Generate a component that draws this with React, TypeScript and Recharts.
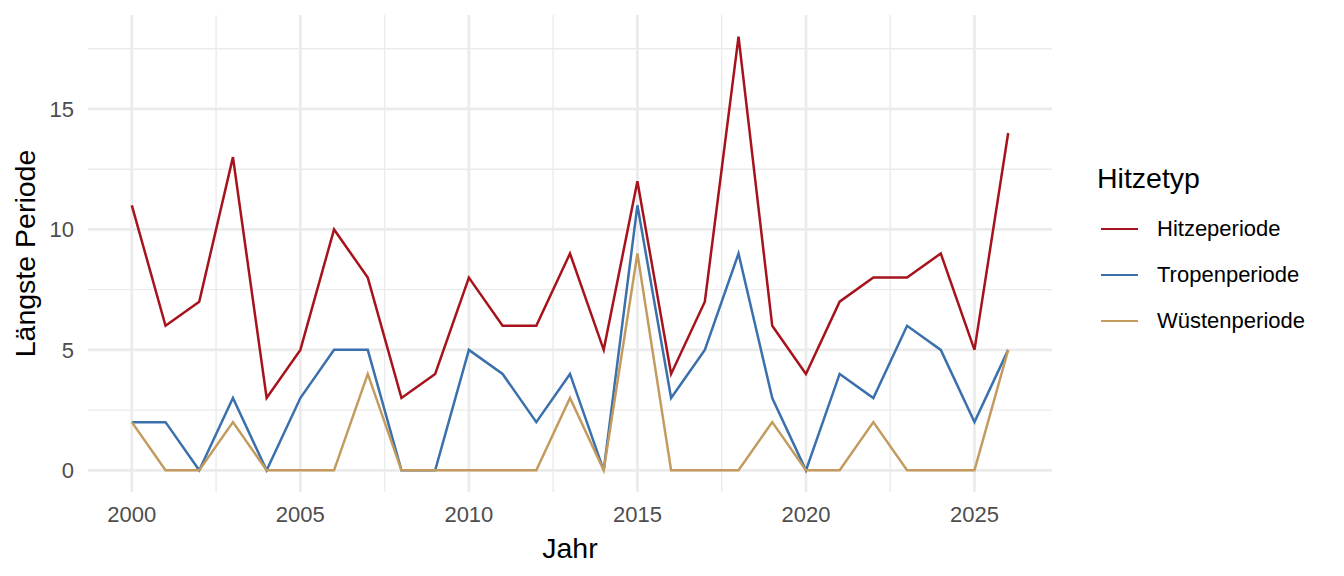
import React from 'react';
import { LineChart, Line, XAxis, YAxis, CartesianGrid } from 'recharts';

// Jahre und längste Perioden je Hitzetyp (Tage)
const years = [
  2000, 2001, 2002, 2003, 2004, 2005, 2006, 2007, 2008, 2009, 2010, 2011, 2012, 2013,
  2014, 2015, 2016, 2017, 2018, 2019, 2020, 2021, 2022, 2023, 2024, 2025, 2026,
];
const hitzeperiode = [11, 6, 7, 13, 3, 5, 10, 8, 3, 4, 8, 6, 6, 9, 5, 12, 4, 7, 18, 6, 4, 7, 8, 8, 9, 5, 14];
const tropenperiode = [2, 2, 0, 3, 0, 3, 5, 5, 0, 0, 5, 4, 2, 4, 0, 11, 3, 5, 9, 3, 0, 4, 3, 6, 5, 2, 5];
const wuestenperiode = [2, 0, 0, 2, 0, 0, 0, 4, 0, 0, 0, 0, 0, 3, 0, 9, 0, 0, 0, 2, 0, 0, 2, 0, 0, 0, 5];

const xTicks = [2000, 2005, 2010, 2015, 2020, 2025];
const xMinor = [2002.5, 2007.5, 2012.5, 2017.5, 2022.5];
const yTicks = [0, 5, 10, 15];
const yMinor = [2.5, 7.5, 12.5, 17.5];

const series = [
  { key: 'hitze', name: 'Hitzeperiode', color: '#A6131C' },
  { key: 'tropen', name: 'Tropenperiode', color: '#3A70AB' },
  { key: 'wueste', name: 'Wüstenperiode', color: '#C49B5E' },
];

const data = years.map((year, i) => ({
  year,
  hitze: hitzeperiode[i],
  tropen: tropenperiode[i],
  wueste: wuestenperiode[i],
}));

const FONT = '"Liberation Sans", Arial, Helvetica, sans-serif';
const GRID = '#EBEBEB';

export default function App() {
  return (
    <div style={{ position: 'absolute', left: 0, top: 0, width: 1344, height: 576, background: '#fff', fontFamily: FONT }}>
      <LineChart width={1344} height={576} data={data} margin={{ top: 15, right: 292, bottom: 0, left: 0 }}>
        <CartesianGrid stroke={GRID} strokeWidth={1.4} horizontalValues={yMinor} verticalValues={xMinor} />
        <CartesianGrid stroke={GRID} strokeWidth={2.7} horizontalValues={yTicks} verticalValues={xTicks} />
        <XAxis
          dataKey="year"
          type="number"
          domain={[1998.7, 2027.3]}
          ticks={xTicks}
          allowDataOverflow
          axisLine={false}
          tickLine={false}
          tickSize={0}
          tickMargin={14}
          height={84}
          tick={{ fill: '#4D4D4D', fontSize: 22, fontFamily: FONT }}
          label={{ value: 'Jahr', position: 'insideBottom', offset: 18, fill: '#000', fontSize: 28.5, fontFamily: FONT }}
        />
        <YAxis
          type="number"
          domain={[-0.9, 18.9]}
          ticks={yTicks}
          allowDataOverflow
          axisLine={false}
          tickLine={false}
          tickSize={0}
          tickMargin={14}
          width={88}
          tick={{ fill: '#4D4D4D', fontSize: 22, fontFamily: FONT }}
          label={{
            content: (props: any) => {
              const vb = props.viewBox || { x: 0, y: 15, width: 88, height: 477 };
              const cy = vb.y + vb.height / 2;
              return (
                <text
                  transform={`translate(35, ${cy}) rotate(-90)`}
                  textAnchor="middle"
                  fill="#000"
                  fontSize={28.5}
                  fontFamily={FONT}
                >
                  Längste Periode
                </text>
              );
            },
          }}
        />
        {series.map((s) => (
          <Line
            key={s.key}
            type="linear"
            dataKey={s.key}
            name={s.name}
            stroke={s.color}
            strokeWidth={2.5}
            dot={false}
            activeDot={false}
            isAnimationActive={false}
          />
        ))}
      </LineChart>
      <div style={{ position: 'absolute', left: 1097, top: 161, width: 240 }}>
        <div style={{ height: 34, lineHeight: '34px', fontSize: 28.5, color: '#000' }}>Hitzetyp</div>
        <div style={{ height: 11 }} />
        {series.map((s) => (
          <div key={s.key} style={{ height: 46, display: 'flex', alignItems: 'center' }}>
            <div style={{ width: 37, height: 2.5, marginLeft: 4, background: s.color }} />
            <span style={{ marginLeft: 19, fontSize: 22, color: '#000' }}>{s.name}</span>
          </div>
        ))}
      </div>
    </div>
  );
}
